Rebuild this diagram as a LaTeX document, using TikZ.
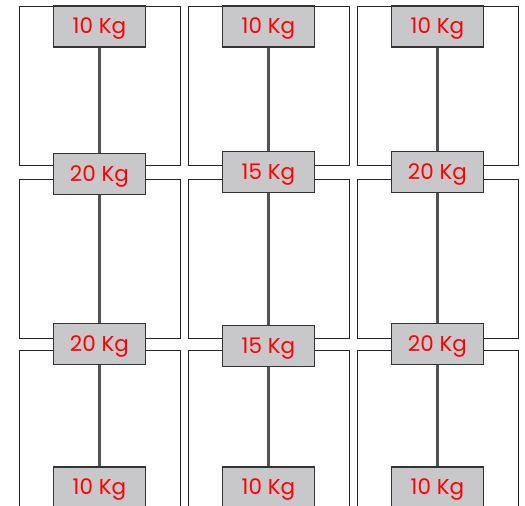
\documentclass[tikz,border=0pt]{standalone}
\usepackage{fontspec}
\setmainfont{Poppins}
\definecolor{weightgray}{HTML}{C8C8CA}
\definecolor{rodgray}{HTML}{525252}
\tikzset{
    weight/.style={draw=black!80, fill=weightgray, line width=1.2pt, minimum width=92pt, minimum height=41pt, inner sep=0pt, text height=16pt, text depth=2pt, text=red, font=\fontsize{21.5}{21.5}\selectfont},
    panel/.style={draw=black!85, line width=1pt},
    rod/.style={draw=rodgray, line width=2.3pt},
}

\begin{document}
\begin{tikzpicture}[x=1pt, y=-1pt]
    \useasboundingbox (0,0) rectangle (525,506);
    \clip (0,0) rectangle (525,506);
    \foreach \col/\cx/\ya/\yb/\kg in {a/99.5/174/344/20, b/268.5/172/346/15, c/437.5/172/344/20} {
        % three frames per column
        \draw[panel] (\cx-80.5,6) rectangle (\cx+80.5,165);
        \draw[panel] (\cx-80.5,179) rectangle (\cx+80.5,338);
        \draw[panel] (\cx-80.5,350) rectangle (\cx+80.5,509);
        \node[weight] (\col-top) at (\cx,26.5) {10 Kg};
        \node[weight] (\col-bot) at (\cx,487.5) {10 Kg};
        \draw[rod] (\col-top) -- (\col-bot);
        \node[weight] (\col-mida) at (\cx,\ya) {\kg{} Kg};
        \node[weight] (\col-midb) at (\cx,\yb) {\kg{} Kg};
    }
\end{tikzpicture}
\end{document}
